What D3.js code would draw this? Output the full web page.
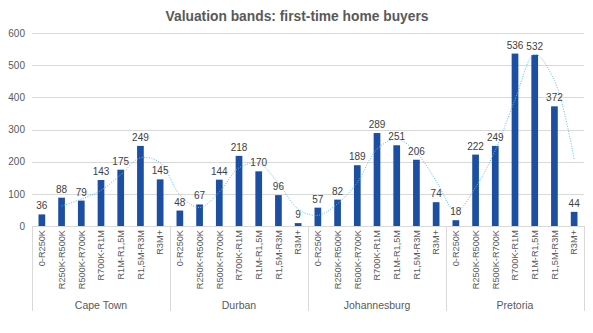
<!DOCTYPE html>
<html>
<head>
<meta charset="utf-8">
<script src="https://cdn.jsdelivr.net/npm/d3@7/dist/d3.min.js"></script>
<style>
  html, body { margin: 0; padding: 0; background: #fff; }
  svg { display: block; font-family: "Liberation Sans", Arial, sans-serif; }
</style>
</head>
<body>
<svg id="chart" width="593" height="333"></svg>
<script>
// Valuation bands per city
const cities = ["Cape Town", "Durban", "Johannesburg", "Pretoria"];
const bands = ["0-R250K", "R250K-R500K", "R500K-R700K", "R700K-R1M", "R1M-R1,5M", "R1,5M-R3M", "R3M+"];
const capeTown = [36, 88, 79, 143, 175, 249, 145];
const durban = [48, 67, 144, 218, 170, 96, 9];
const johannesburg = [57, 82, 189, 289, 251, 206, 74];
const pretoria = [18, 222, 249, 536, 532, 372, 44];
const yTicks = [0, 100, 200, 300, 400, 500, 600];

const seriesByCity = [capeTown, durban, johannesburg, pretoria];

// Flatten into one row per bar
const rows = [];
cities.forEach((c, ci) => {
  bands.forEach((b, bi) => {
    rows.push({ city: c, band: b, key: c + "|" + b, value: seriesByCity[ci][bi] });
  });
});

const svg = d3.select("#chart");
const margin = { left: 32, right: 9, top: 33, bottom: 107 };
const W = 593, H = 333;
const plotW = W - margin.left - margin.right;
const plotH = H - margin.top - margin.bottom;

const x = d3.scaleBand()
  .domain(rows.map(d => d.key))
  .range([margin.left, margin.left + plotW])
  .paddingInner(0.66)
  .paddingOuter(0.33);

const y = d3.scaleLinear().domain([0, 600]).range([margin.top + plotH, margin.top]);

// Gridlines
svg.append("g")
  .selectAll("line")
  .data(yTicks)
  .join("line")
  .attr("x1", margin.left)
  .attr("x2", margin.left + plotW)
  .attr("y1", d => Math.round(y(d)) + 0.5)
  .attr("y2", d => Math.round(y(d)) + 0.5)
  .attr("stroke", "#d9d9d9")
  .attr("stroke-width", 1);

// Y axis labels
const yAxis = d3.axisLeft(y).tickValues(yTicks).tickSize(0).tickPadding(7);
const gy = svg.append("g").attr("transform", `translate(${margin.left},0)`).call(yAxis);
gy.select(".domain").remove();
gy.selectAll("text")
  .attr("fill", "#595959")
  .style("font-size", "10px")
  .style("font-family", "'Liberation Sans', Arial, sans-serif");

// Bars
svg.append("g")
  .selectAll("rect")
  .data(rows)
  .join("rect")
  .attr("x", d => x(d.key))
  .attr("width", x.bandwidth())
  .attr("y", d => y(d.value))
  .attr("height", d => y(0) - y(d.value))
  .attr("fill", "#1c4fa1");

// Two-period moving average trendline
const ma = [];
for (let i = 1; i < rows.length; i++) {
  ma.push({ key: rows[i].key, value: (rows[i - 1].value + rows[i].value) / 2 });
}
const line = d3.line()
  .x(d => x(d.key) + x.bandwidth() / 2)
  .y(d => y(d.value))
  .curve(d3.curveCatmullRom.alpha(0.5));
svg.append("path")
  .datum(ma)
  .attr("d", line)
  .attr("fill", "none")
  .attr("stroke", "#5bc3e8")
  .attr("stroke-width", 1)
  .attr("stroke-dasharray", "1,1.5");

// Value labels
svg.append("g")
  .selectAll("text")
  .data(rows)
  .join("text")
  .attr("x", d => x(d.key) + x.bandwidth() / 2)
  .attr("y", d => y(d.value) - 5)
  .attr("text-anchor", "middle")
  .attr("fill", "#404040")
  .style("font-size", "10px")
  .text(d => d.value);

// X axis line
svg.append("line")
  .attr("x1", margin.left)
  .attr("x2", margin.left + plotW)
  .attr("y1", y(0) + 0.5)
  .attr("y2", y(0) + 0.5)
  .attr("stroke", "#d9d9d9");

// Band labels (rotated)
svg.append("g")
  .selectAll("text")
  .data(rows)
  .join("text")
  .attr("transform", d => `translate(${x(d.key) + x.bandwidth() / 2 + 3.3},${y(0) + 4}) rotate(-90)`)
  .attr("text-anchor", "end")
  .attr("fill", "#595959")
  .style("font-size", "9.2px")
  .text(d => d.band);

// City group separators and labels
const step = x.step();
const groupW = step * bands.length;
const x0 = margin.left;
const sepBottom = 311;
svg.append("g")
  .selectAll("line")
  .data(d3.range(cities.length + 1))
  .join("line")
  .attr("x1", i => Math.round(x0 + i * groupW) + 0.5)
  .attr("x2", i => Math.round(x0 + i * groupW) + 0.5)
  .attr("y1", y(0))
  .attr("y2", sepBottom)
  .attr("stroke", "#d9d9d9");

svg.append("g")
  .selectAll("text")
  .data(cities)
  .join("text")
  .attr("x", (c, i) => x0 + i * groupW + groupW / 2)
  .attr("y", 308.5)
  .attr("text-anchor", "middle")
  .attr("fill", "#595959")
  .style("font-size", "10.5px")
  .text(c => c);

// Title
svg.append("text")
  .attr("x", 297)
  .attr("y", 20.5)
  .attr("text-anchor", "middle")
  .attr("fill", "#595959")
  .style("font-size", "13.8px")
  .style("font-weight", "bold")
  .text("Valuation bands: first-time home buyers");
</script>
</body>
</html>
